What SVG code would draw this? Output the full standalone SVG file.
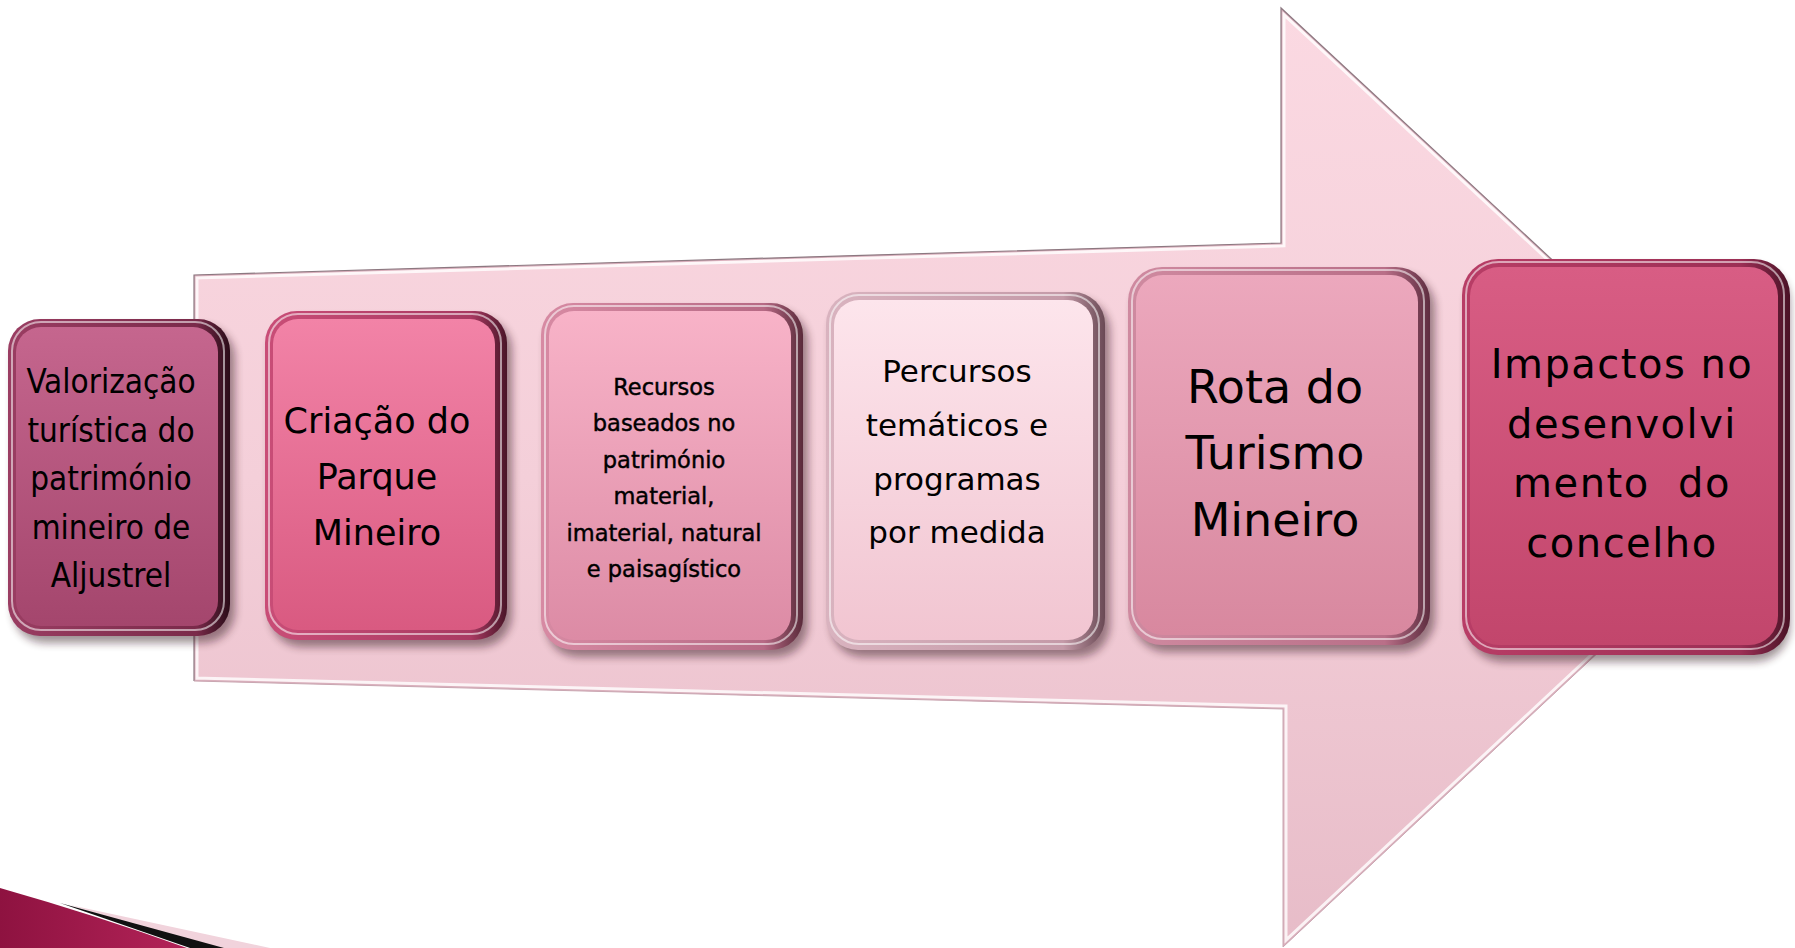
<svg xmlns="http://www.w3.org/2000/svg" width="1795" height="948" viewBox="0 0 1795 948">
<defs>
  <linearGradient id="arrowFill" x1="0" y1="0" x2="0" y2="1">
    <stop offset="0" stop-color="#fbd9e2"/>
    <stop offset="0.5" stop-color="#f4cfd9"/>
    <stop offset="1" stop-color="#e7bcc8"/>
  </linearGradient>
  <clipPath id="arrowClip">
    <polygon points="194,275 1281,243 1281,8 1786,477 1283,947 1283,709 194,681"/>
  </clipPath>
  <filter id="blur" x="-10%" y="-10%" width="130%" height="130%">
    <feGaussianBlur stdDeviation="4"/>
  </filter>
  <linearGradient id="crimson" x1="0" y1="0" x2="1" y2="0">
    <stop offset="0" stop-color="#8e1240"/>
    <stop offset="1" stop-color="#b32358"/>
  </linearGradient>
  <linearGradient id="face1" x1="0" y1="0" x2="0" y2="1"><stop offset="0" stop-color="#c5668e"/><stop offset="1" stop-color="#a4466d"/></linearGradient>
  <linearGradient id="face2" x1="0" y1="0" x2="0" y2="1"><stop offset="0" stop-color="#f283a7"/><stop offset="1" stop-color="#d95a81"/></linearGradient>
  <linearGradient id="face3" x1="0" y1="0" x2="0" y2="1"><stop offset="0" stop-color="#f8b3c8"/><stop offset="1" stop-color="#dc8ba5"/></linearGradient>
  <linearGradient id="face4" x1="0" y1="0" x2="0" y2="1"><stop offset="0" stop-color="#fde5ec"/><stop offset="1" stop-color="#f1c5d1"/></linearGradient>
  <linearGradient id="face5" x1="0" y1="0" x2="0" y2="1"><stop offset="0" stop-color="#eca8bd"/><stop offset="1" stop-color="#d8889f"/></linearGradient>
  <linearGradient id="face6" x1="0" y1="0" x2="0" y2="1"><stop offset="0" stop-color="#d85d84"/><stop offset="1" stop-color="#c2466c"/></linearGradient>
  <linearGradient id="rim1" x1="0" y1="0" x2="1" y2="0"><stop offset="0" stop-color="#9a3d62"/><stop offset="0.85" stop-color="#7a2a4a"/><stop offset="1" stop-color="#2a0c18"/></linearGradient>
  <linearGradient id="rim2" x1="0" y1="0" x2="1" y2="0"><stop offset="0" stop-color="#c94d77"/><stop offset="0.85" stop-color="#a93a62"/><stop offset="1" stop-color="#4a1528"/></linearGradient>
  <linearGradient id="rim3" x1="0" y1="0" x2="1" y2="0"><stop offset="0" stop-color="#d78aa3"/><stop offset="0.85" stop-color="#b76a85"/><stop offset="1" stop-color="#5a2a3a"/></linearGradient>
  <linearGradient id="rim4" x1="0" y1="0" x2="1" y2="0"><stop offset="0" stop-color="#d9b3bf"/><stop offset="0.85" stop-color="#c49aa8"/><stop offset="1" stop-color="#6a4a55"/></linearGradient>
  <linearGradient id="rim5" x1="0" y1="0" x2="1" y2="0"><stop offset="0" stop-color="#cf8aa0"/><stop offset="0.85" stop-color="#b96f88"/><stop offset="1" stop-color="#5e2d40"/></linearGradient>
  <linearGradient id="rim6" x1="0" y1="0" x2="1" y2="0"><stop offset="0" stop-color="#b83d66"/><stop offset="0.85" stop-color="#9c2f55"/><stop offset="1" stop-color="#4a1226"/></linearGradient>
</defs>
<style>
  .t{font-family:"DejaVu Sans","Liberation Sans",sans-serif;fill:#000;text-anchor:middle}
  .tc{font-family:"DejaVu Sans Condensed","DejaVu Sans","Liberation Sans",sans-serif;fill:#000;text-anchor:middle}
  .hi{fill:none;stroke:#ffffff;stroke-opacity:0.55;stroke-width:2}
  .sh{fill:#2a0a18;opacity:0.45;filter:url(#blur)}
</style>

<g id="corner">
  <path d="M 70 905 L 270 948 L 205 948 Z" fill="#f1d3dc"/>
  <path d="M 60 903 L 224 948 L 190 948 Z" fill="#111111"/>
  <path d="M 0 888 Q 95 915 187 948 L 0 948 Z" fill="url(#crimson)"/>
</g>

<g id="arrow">
  <polygon points="194,275 1281,243 1281,8 1786,477 1283,947 1283,709 194,681" fill="url(#arrowFill)"/>
  <polygon points="194,275 1281,243 1281,8 1786,477 1283,947 1283,709 194,681" fill="none" stroke="#ffffff" stroke-opacity="0.8" stroke-width="9" clip-path="url(#arrowClip)"/>
  <polygon points="194,275 1281,243 1281,8 1786,477 1283,947 1283,709 194,681" fill="none" stroke="#dbb0bd" stroke-width="3" clip-path="url(#arrowClip)"/>
  <polyline points="194,681 194,275 1281,243 1281,8 1786,477" fill="none" stroke="#8c7880" stroke-width="1.2"/>
  <polyline points="1786,477 1283,947 1283,709 194,681" fill="none" stroke="#c9a6b1" stroke-width="1"/>
</g>

<g id="connectors"></g>

<g id="node1">
  <rect class="sh" x="13" y="326" width="222" height="317" rx="32"/>
  <rect x="8" y="319" width="222" height="317" rx="32" fill="url(#rim1)"/>
  <rect x="16" y="327" width="202" height="299" rx="25" fill="url(#face1)"/>
  <rect class="hi" x="12" y="322" width="212" height="308" rx="29"/>
  <text class="tc" font-size="33" x="111" y="393">Valorização</text>
  <text class="tc" font-size="33" x="111" y="442">turística do</text>
  <text class="tc" font-size="33" x="111" y="490">património</text>
  <text class="tc" font-size="33" x="111" y="539">mineiro de</text>
  <text class="tc" font-size="33" x="111" y="587">Aljustrel</text>
</g>

<g id="node2">
  <rect class="sh" x="270" y="318" width="242" height="329" rx="32"/>
  <rect x="265" y="311" width="242" height="329" rx="32" fill="url(#rim2)"/>
  <rect x="273" y="319" width="222" height="311" rx="25" fill="url(#face2)"/>
  <rect class="hi" x="269" y="314" width="232" height="320" rx="29"/>
  <text class="t" font-size="35" x="377" y="433">Criação do</text>
  <text class="t" font-size="35" x="377" y="489">Parque</text>
  <text class="t" font-size="35" x="377" y="545">Mineiro</text>
</g>

<g id="node3">
  <rect class="sh" x="546" y="310" width="262" height="347" rx="32"/>
  <rect x="541" y="303" width="262" height="347" rx="32" fill="url(#rim3)"/>
  <rect x="549" y="311" width="242" height="329" rx="25" fill="url(#face3)"/>
  <rect class="hi" x="545" y="306" width="252" height="338" rx="29"/>
  <g stroke="#000" stroke-width="0.45">
  <text class="t" font-size="22.5" x="664" y="395">Recursos</text>
  <text class="t" font-size="22.5" x="664" y="431">baseados no</text>
  <text class="t" font-size="22.5" x="664" y="468">património</text>
  <text class="t" font-size="22.5" x="664" y="504">material,</text>
  <text class="t" font-size="22.5" x="664" y="541">imaterial, natural</text>
  <text class="t" font-size="22.5" x="664" y="577">e paisagístico</text>
  </g>
</g>

<g id="node4">
  <rect class="sh" x="831" y="299" width="279" height="358" rx="32"/>
  <rect x="826" y="292" width="279" height="358" rx="32" fill="url(#rim4)"/>
  <rect x="834" y="300" width="259" height="340" rx="25" fill="url(#face4)"/>
  <rect class="hi" x="830" y="295" width="269" height="349" rx="29"/>
  <text class="t" font-size="31" x="957" y="382">Percursos</text>
  <text class="t" font-size="31" x="957" y="436">temáticos e</text>
  <text class="t" font-size="31" x="957" y="490">programas</text>
  <text class="t" font-size="31" x="957" y="543">por medida</text>
</g>

<g id="node5">
  <rect class="sh" x="1133" y="274" width="302" height="378" rx="34"/>
  <rect x="1128" y="267" width="302" height="378" rx="34" fill="url(#rim5)"/>
  <rect x="1136" y="275" width="282" height="360" rx="27" fill="url(#face5)"/>
  <rect class="hi" x="1132" y="270" width="292" height="369" rx="31"/>
  <text class="t" font-size="46" x="1275" y="403">Rota do</text>
  <text class="t" font-size="46" x="1275" y="469">Turismo</text>
  <text class="t" font-size="46" x="1275" y="536">Mineiro</text>
</g>

<g id="node6">
  <rect class="sh" x="1467" y="266" width="323" height="396" rx="36"/>
  <rect x="1462" y="259" width="328" height="396" rx="36" fill="url(#rim6)"/>
  <rect x="1470" y="267" width="308" height="378" rx="29" fill="url(#face6)"/>
  <rect class="hi" x="1466" y="262" width="318" height="387" rx="33"/>
  <text class="t" font-size="40" letter-spacing="1.5" x="1622" y="378">Impactos no</text>
  <text class="t" font-size="40" letter-spacing="1.5" x="1622" y="438">desenvolvi</text>
  <text class="t" font-size="40" letter-spacing="1.5" x="1622" y="497" xml:space="preserve">mento  do</text>
  <text class="t" font-size="40" letter-spacing="1.5" x="1622" y="557">concelho</text>
</g>
</svg>
